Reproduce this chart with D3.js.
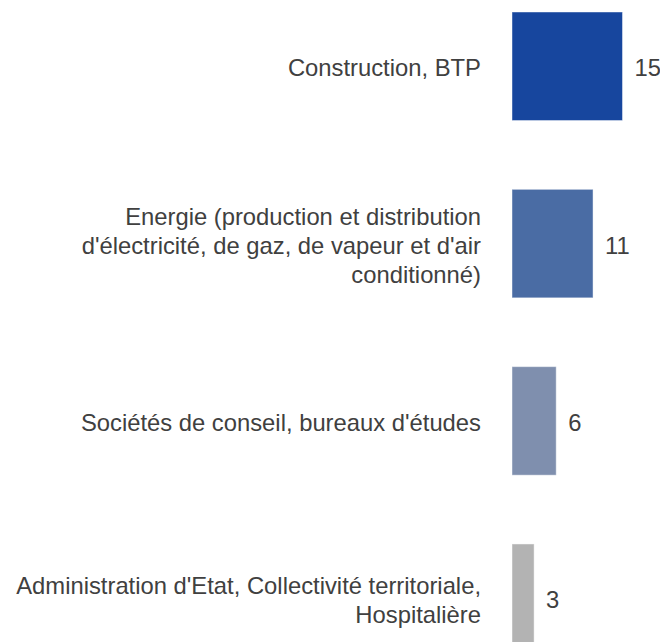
<!DOCTYPE html>
<html>
<head>
<meta charset="utf-8">
<script src="https://cdn.jsdelivr.net/npm/d3@7"></script>
<style>
  body { margin: 0; background: #fff; }
  svg { display: block; }
</style>
</head>
<body>
<div id="chart"></div>
<script>
// categories (already split into the lines shown on the chart)
const categories = [
    ["Construction, BTP"],
    ["Energie (production et distribution", "d'électricité, de gaz, de vapeur et d'air", "conditionné)"],
    ["Sociétés de conseil, bureaux d'études"],
    ["Administration d'Etat, Collectivité territoriale,", "Hospitalière"]
];
const values = [15, 11, 6, 3];
const colors = ["#17469e", "#4a6ca4", "#7f8fae", "#b3b3b3"];

const width = 660, height = 642;
const left = 512;
const fontSize = "23.8px";

const svg = d3.select("#chart").append("svg")
    .attr("width", width)
    .attr("height", height);

const idx = d3.range(values.length);

const x = d3.scaleLinear()
    .domain([0, 15])
    .range([left, left + 110.5]);

const y = d3.scaleBand()
    .domain(idx)
    .range([12, 652.5])
    .paddingInner(0.388)
    .paddingOuter(0);

// bars
svg.selectAll(".bar")
    .data(idx)
    .enter().append("rect")
    .attr("class", "bar")
    .attr("x", x(0))
    .attr("y", i => y(i))
    .attr("width", i => x(values[i]) - x(0))
    .attr("height", y.bandwidth())
    .attr("fill", i => colors[i])
    .attr("stroke", "rgba(255,255,255,0.45)")
    .attr("stroke-width", 1);

// value labels
svg.selectAll(".val")
    .data(idx)
    .enter().append("text")
    .attr("class", "val")
    .attr("x", i => x(values[i]) + 12)
    .attr("y", i => y(i) + y.bandwidth() / 2)
    .attr("dy", "0.43em")
    .style("font-family", "'Liberation Sans', Arial, sans-serif")
    .style("font-size", fontSize)
    .attr("fill", "#404040")
    .text(i => values[i]);

// category labels
const lineH = 28.7;
const labels = svg.selectAll(".cat")
    .data(idx)
    .enter().append("text")
    .attr("class", "cat")
    .attr("text-anchor", "end")
    .style("font-family", "'Liberation Sans', Arial, sans-serif")
    .style("font-size", fontSize)
    .attr("fill", "#404040");

labels.each(function(i) {
    const lines = categories[i];
    const cy = y(i) + y.bandwidth() / 2;
    const top = cy - (lines.length - 1) * lineH / 2;
    d3.select(this).selectAll("tspan")
        .data(lines)
        .enter().append("tspan")
        .attr("x", 481)
        .attr("y", (d, k) => top + k * lineH)
        .attr("dy", "0.43em")
        .text(d => d);
});
</script>
</body>
</html>
